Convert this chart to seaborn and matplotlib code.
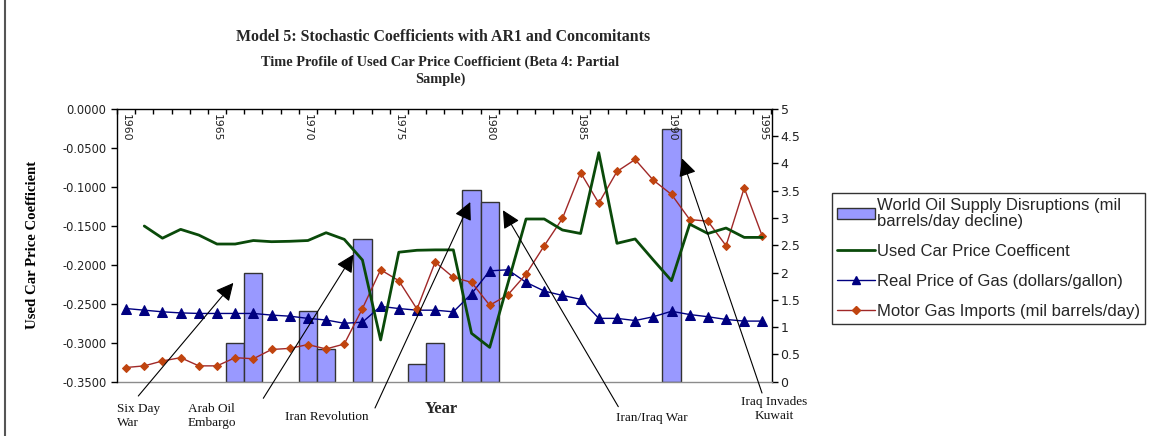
import numpy as np
import pandas as pd
import matplotlib
matplotlib.use("Agg")
import matplotlib.pyplot as plt
import matplotlib.transforms as mtransforms
import seaborn as sns
from matplotlib.patches import Patch
from matplotlib.lines import Line2D
from matplotlib.ticker import FixedLocator, FuncFormatter

# ---------------- data ----------------
years = list(range(1960, 1996))
year_labels = [str(y) for y in years]

disruption_years = [1966, 1967, 1970, 1971, 1973, 1976, 1977, 1979, 1980, 1990]
disruption_values = [0.70, 2.00, 1.30, 0.60, 2.61, 0.32, 0.70, 3.51, 3.30, 4.62]

gas_price = [1.34, 1.31, 1.28, 1.26, 1.25, 1.25, 1.25, 1.25, 1.22, 1.20,
             1.16, 1.13, 1.07, 1.09, 1.38, 1.34, 1.31, 1.31, 1.28, 1.61,
             2.03, 2.05, 1.82, 1.66, 1.58, 1.51, 1.16, 1.16, 1.12, 1.19,
             1.29, 1.23, 1.19, 1.14, 1.11, 1.11]

gas_imports = [0.26, 0.29, 0.38, 0.44, 0.29, 0.29, 0.44, 0.42, 0.59, 0.61,
               0.68, 0.60, 0.69, 1.34, 2.05, 1.85, 1.33, 2.19, 1.91, 1.82,
               1.40, 1.59, 1.97, 2.49, 2.99, 3.83, 3.27, 3.85, 4.07, 3.69,
               3.43, 2.97, 2.94, 2.49, 3.55, 2.66]

coef_years = list(range(1961, 1996))
coef_values = [-0.1504, -0.1660, -0.1547, -0.1620, -0.1735, -0.1735, -0.1690, -0.1705, -0.1700,
               -0.1690, -0.1590, -0.1675, -0.1940, -0.2965, -0.1840, -0.1815, -0.1810, -0.1810, -0.2880,
               -0.3060, -0.2240, -0.1414, -0.1414, -0.1555, -0.1600, -0.0564, -0.1726, -0.1670, -0.1940,
               -0.2205, -0.1480, -0.1600, -0.1530, -0.1650, -0.1650]

events = ["Six Day\nWar", "Arab Oil\nEmbargo", "Iran Revolution", "Iran/Iraq War", "Iraq Invades\nKuwait"]

# ---------------- styling ----------------
W, H = 1152, 436
BAR_FC = "#9999FF"
BAR_EC = "#333333"
GREEN = "#0A4A0A"
NAVY = "#000080"
RED_LINE = "#A02828"
RED_MK = "#C0440F"
SERIF = ["Liberation Serif", "DejaVu Serif"]

sns.set_theme(style="white")
plt.rcParams["font.family"] = ["DejaVu Sans"]

fig = plt.figure(figsize=(W / 100, H / 100), dpi=100)
fig.patch.set_facecolor("white")

def fx(px):
    return px / W

def fy(py):
    return 1 - py / H

ax = fig.add_axes([fx(117), fy(381.7), fx(771.5) - fx(117), fy(108.7) - fy(381.7)])
ax.set_facecolor("white")
axg = ax.twinx()

# index mapping for categorical axis
pos = {y: i for i, y in enumerate(years)}
disr_map = dict(zip(disruption_years, disruption_values))
df = pd.DataFrame({
    "year": year_labels,
    "idx": np.arange(len(years)),
    "disruption": [disr_map.get(y, np.nan) for y in years],
    "gas_price": gas_price,
    "imports": gas_imports,
})

sns.barplot(data=df, x="year", y="disruption", order=year_labels, ax=ax,
            color=BAR_FC, saturation=1, width=1.0, edgecolor=BAR_EC,
            linewidth=1.0, errorbar=None, zorder=2)

sns.lineplot(data=df, x="idx", y="gas_price", ax=ax, color=NAVY, linewidth=1.0,
             marker="^", markersize=6.5, markeredgecolor=NAVY, markerfacecolor=NAVY,
             zorder=4, legend=False)
sns.lineplot(data=df, x="idx", y="imports", ax=ax, color=RED_LINE, linewidth=1.0,
             marker="D", markersize=4.5, markeredgecolor=RED_MK, markerfacecolor=RED_MK,
             zorder=4, legend=False)

ax.set_xlim(-0.5, len(years) - 0.5)
ax.set_ylim(0, 5)

# right-hand axis (0..5)
ax.yaxis.tick_right()
ax.yaxis.set_label_position("right")
ax.set_yticks(np.arange(0, 5.01, 0.5))
ax.yaxis.set_major_formatter(FuncFormatter(lambda v, p: f"{v:g}"))
ax.tick_params(axis="y", which="major", right=True, left=False, labelright=True,
               labelleft=False, direction="out", length=4.5, width=1, color="black",
               labelsize=9, pad=2, labelcolor="#222222")
ax.set_ylabel("")
ax.set_xlabel("")
ax.tick_params(axis="x", which="both", top=False, bottom=False,
               labeltop=False, labelbottom=False)

for s in ["top", "right"]:
    ax.spines[s].set_color("black")
    ax.spines[s].set_linewidth(1.0)
ax.spines["left"].set_visible(False)
ax.spines["bottom"].set_color("#8c8c8c")
ax.spines["bottom"].set_linewidth(1.0)

# left axis: used car price coefficient (drawn on top)
cdf = pd.DataFrame({"idx": [pos[y] for y in coef_years], "coef": coef_values})
sns.lineplot(data=cdf, x="idx", y="coef", ax=axg, color=GREEN, linewidth=2.0,
             legend=False, zorder=5)
axg.set_xlim(-0.5, len(years) - 0.5)
axg.set_ylim(-0.35, 0)
axg.yaxis.tick_left()
axg.yaxis.set_label_position("left")
axg.set_yticks(np.arange(-0.35, 0.0001, 0.05))
axg.yaxis.set_major_formatter(FuncFormatter(lambda v, p: f"{v:.4f}" if abs(v) > 1e-9 else "0.0000"))
axg.tick_params(axis="y", left=True, right=False, labelleft=True, labelright=False,
                direction="out", length=4.5, width=1, color="black", labelsize=8.3,
                pad=3, labelcolor="#222222")
axg.set_ylabel("Used Car Price Coefficient", family=SERIF, fontweight="bold",
               fontsize=10.6, color="black")
axg.yaxis.set_label_coords(fx(39), 0.5,
                           transform=mtransforms.blended_transform_factory(fig.transFigure, ax.transAxes))

# category axis: ticks and year labels along the top (on the upper axes so labels sit over bars)
axg.xaxis.set_visible(True)
axg.xaxis.set_minor_locator(FixedLocator(np.arange(-0.5, len(years), 1)))
axg.xaxis.set_major_locator(FixedLocator([pos[y] for y in years if y % 5 == 0]))
axg.xaxis.set_major_formatter(FuncFormatter(lambda v, p: year_labels[int(round(v))]))
axg.tick_params(axis="x", which="minor", top=True, bottom=False, direction="in",
                length=3.5, width=1, color="black")
axg.tick_params(axis="x", which="major", top=True, bottom=False, labeltop=True,
                labelbottom=False, length=0, pad=-3.5, labelsize=7.8,
                labelrotation=-90, labelcolor="#222222")
for t in axg.xaxis.get_major_ticks():
    t.label2.set_va("top")
    t.label2.set_ha("center")
axg.set_xlabel("")

for s in ["top", "right", "bottom"]:
    axg.spines[s].set_visible(False)
axg.spines["left"].set_color("black")
axg.spines["left"].set_linewidth(1.0)
axg.grid(False)
ax.grid(False)

# ---------------- titles ----------------
fig.text(fx(443), fy(37), "Model 5: Stochastic Coefficients with AR1 and Concomitants",
         ha="center", va="center", family=SERIF, fontweight="bold", fontsize=11.4)
fig.text(fx(440), fy(70.5), "Time Profile of Used Car Price Coefficient (Beta 4: Partial\nSample)",
         ha="center", va="center", family=SERIF, fontweight="bold", fontsize=10.4,
         linespacing=1.3)
fig.text(fx(441), fy(409), "Year", ha="center", va="center", family=SERIF,
         fontweight="bold", fontsize=12)

# ---------------- event annotations ----------------
tips = [(5.9, 1.81), (12.5, 2.33), (18.93, 3.29), (20.73, 3.14), (30.58, 4.09)]
tails = [(138.3, 396), (263.3, 398.3), (375, 408), (618.3, 406.7), (762, 393)]
label_pos = [(117, 403, "left"), (188, 403, "left"), (285, 417, "left"),
             (616, 418, "left"), (774, 396, "center")]
for (tx, ty), (px, py), (lx, ly, ha), name in zip(tips, tails, label_pos, events):
    axg.annotate("", xy=(tx, ty), xycoords=ax.transData,
                 xytext=(px, H - py), textcoords="figure pixels",
                 arrowprops=dict(arrowstyle="-|>,head_length=0.9,head_width=0.45",
                                 color="black", lw=0.8, shrinkA=0, shrinkB=0,
                                 mutation_scale=12),
                 annotation_clip=False, zorder=10)
    va = "top" if "\n" in name else "center"
    fig.text(fx(lx), fy(ly), name, ha=ha, va=va, family=SERIF, fontsize=9.5,
             linespacing=1.25, color="#111111")

# ---------------- legend ----------------
handles = [
    Patch(facecolor=BAR_FC, edgecolor=BAR_EC, linewidth=1.0),
    Line2D([], [], color=GREEN, linewidth=2.0),
    Line2D([], [], color=NAVY, linewidth=1.0, marker="^", markersize=6,
           markerfacecolor=NAVY, markeredgecolor=NAVY),
    Line2D([], [], color=RED_LINE, linewidth=1.0, marker="D", markersize=4,
           markerfacecolor=RED_MK, markeredgecolor=RED_MK),
]
labels = ["World Oil Supply Disruptions (mil\nbarrels/day decline)",
          "Used Car Price Coefficent",
          "Real Price of Gas (dollars/gallon)",
          "Motor Gas Imports (mil barrels/day)"]
leg = fig.legend(handles, labels, loc="upper left", bbox_to_anchor=(fx(832), fy(193)),
                 bbox_transform=fig.transFigure, frameon=True, fancybox=False,
                 shadow=False, borderaxespad=0, borderpad=0.3, handlelength=2.3,
                 handletextpad=0.1, labelspacing=0.9,
                 prop={"family": ["Liberation Sans", "DejaVu Sans"], "size": 12})
leg.get_frame().set_edgecolor("black")
leg.get_frame().set_linewidth(1.0)
for t in leg.get_texts():
    t.set_linespacing(1.05)

# chart-area border on the left
fig.add_artist(Line2D([fx(5), fx(5)], [0, 1], transform=fig.transFigure,
                      color="#555555", linewidth=1.5))

fig.savefig("out.png", dpi=100, facecolor="white")
